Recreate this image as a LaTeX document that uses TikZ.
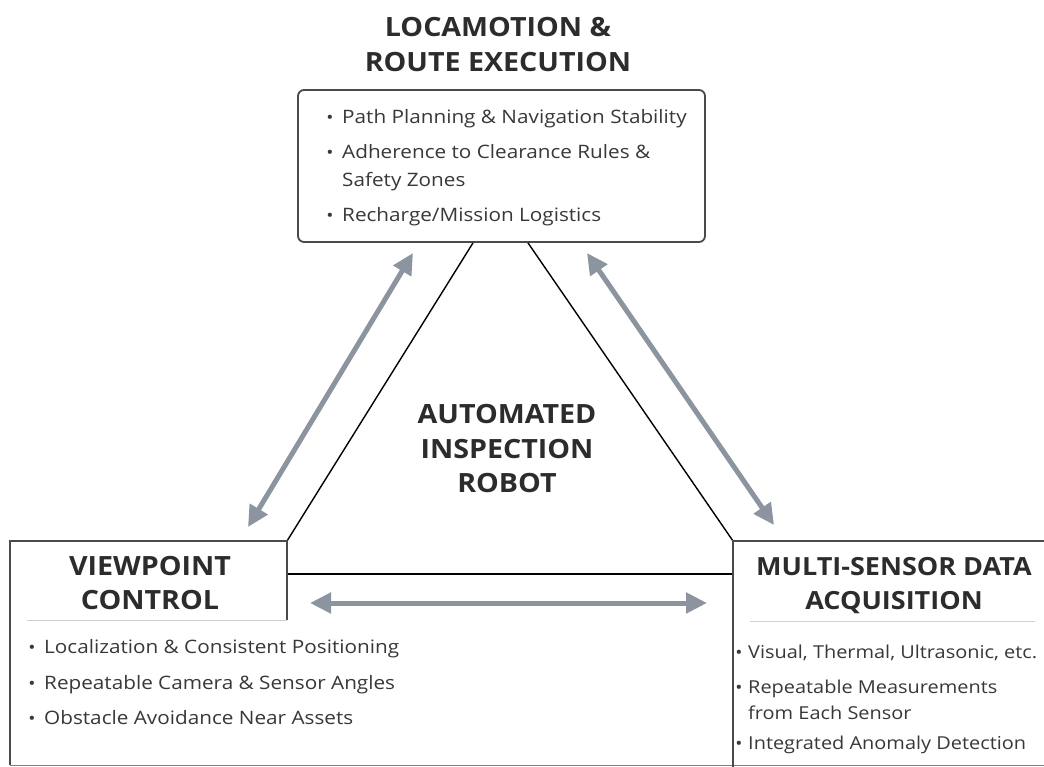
\documentclass[tikz,border=0pt]{standalone}
\usepackage{fontspec}
\setmainfont{Open Sans}[FakeStretch=1.12]
\newfontfamily\titlefont{Open Sans}[FakeStretch=1.08]
\usetikzlibrary{arrows.meta}

\definecolor{linkgray}{HTML}{8C949F}
\definecolor{framegray}{HTML}{4A4A4A}
\definecolor{rulegray}{HTML}{CFCFCF}
\definecolor{bodytext}{HTML}{383838}
\definecolor{headtext}{HTML}{2C2C2C}

\tikzset{
  topbox/.style={draw=framegray, line width=1.8pt, rounded corners=6pt, fill=white, inner sep=0pt},
  frame/.style={draw=framegray, line width=1.3pt},
  rulesep/.style={draw=rulegray, line width=1pt},
  triline/.style={draw=black, line width=1.4pt},
  link/.style={draw=linkgray, line width=5pt,
    {Triangle[length=21pt,width=20pt]}-{Triangle[length=21pt,width=20pt]}},
  % multi-line nodes sit on the baseline of their last line
  head/.style={font=\titlefont\bfseries\fontsize{26.5}{34.5}\selectfont, text=headtext,
    inner sep=0pt, anchor=base, align=center},
  itemtext/.style={font=\fontsize{18.5}{28}\selectfont, text=bodytext, inner sep=0pt,
    anchor=base west, align=left},
  itemnarrow/.style={itemtext, font=\fontsize{17.8}{26.5}\selectfont},
  bul/.style={font=\fontsize{17}{18}\selectfont, text=bodytext, inner sep=0pt, anchor=base}
}

\begin{document}
\begin{tikzpicture}[x=1pt,y=-1pt]
\useasboundingbox[fill=white] (0,0) rectangle (1044,767);

% ---- top block: locomotion & route execution ----
\node[head] (locotitle) at (498,71.5) {LOCAMOTION \&\\ROUTE EXECUTION};
\node[topbox, minimum width=407pt, minimum height=152pt] (loco) at (501.5,166) {};
\node[bul] (lb1) at (330,123.5) {•};
\node[itemtext] (li1) at (342,123.5) {Path Planning \& Navigation Stability};
\node[bul] (lb2) at (330,158.5) {•};
\node[itemtext] (li2) at (342,186.5) {Adherence to Clearance Rules \&\\Safety Zones};
\node[bul] (lb3) at (330,221.5) {•};
\node[itemtext] (li3) at (342,221.5) {Recharge/Mission Logistics};

% ---- corner points of the lower frames ----
\coordinate (vtr) at (287,541);
\coordinate (vtl) at (10,541);
\coordinate (vbl) at (10,765);
\coordinate (vsep) at (287,620);
\coordinate (stl) at (733,541);
\coordinate (str) at (1044,541);
\coordinate (sbl) at (733,767);
\coordinate (bre) at (1044,765);

% ---- central triangle ----
\coordinate (apl) at ([xshift=-28.5pt]loco.south);
\coordinate (apr) at ([xshift=26.5pt]loco.south);
\coordinate (basel) at (287,574);
\coordinate (baser) at (733,574);
\draw[triline] (apl) -- (vtr);
\draw[triline] (apr) -- (stl);
\draw[triline] (basel) -- (baser);

\node[head] (robot) at (507,492.5) {AUTOMATED\\INSPECTION\\ROBOT};

% ---- lower left block: viewpoint control ----
\draw[frame] (vsep) -- (vtr) -- (vtl) -- (vbl);
\draw[draw=framegray!70, line width=1pt] (vbl) -- (bre);
\draw[rulesep] (27,620) -- (vsep);
\node[head] (viewtitle) at (150,609.5) {VIEWPOINT\\CONTROL};
\node[bul] (vb1) at (32,653.5) {•};
\node[itemtext] (vi1) at (44,653.5) {Localization \& Consistent Positioning};
\node[bul] (vb2) at (32,689) {•};
\node[itemtext] (vi2) at (44,689) {Repeatable Camera \& Sensor Angles};
\node[bul] (vb3) at (32,724.5) {•};
\node[itemtext] (vi3) at (44,724.5) {Obstacle Avoidance Near Assets};

% ---- lower right block: multi-sensor data acquisition ----
\draw[frame] (str) -- (stl) -- (sbl);
\draw[rulesep] (750,621) -- (1035,621);
\node[head, font=\titlefont\bfseries\fontsize{25}{34.5}\selectfont] (senstitle) at (894,609.5)
  {MULTI-SENSOR DATA\\ACQUISITION};
\node[bul] (sb1) at (739,658) {•};
\node[itemnarrow] (si1) at (748,658) {Visual, Thermal, Ultrasonic, etc.};
\node[bul] (sb2) at (739,693) {•};
\node[itemnarrow] (si2) at (748,719.5) {Repeatable Measurements\\from Each Sensor};
\node[bul] (sb3) at (739,749) {•};
\node[itemnarrow] (si3) at (748,749) {Integrated Anomaly Detection};

% ---- two-way links between the blocks ----
\coordinate (lv) at (248,527);
\coordinate (ll) at (413,253);
\coordinate (rl) at (587,253);
\coordinate (rs) at (774,525);
\coordinate (hv) at (310,603);
\coordinate (hs) at (707,603);
\draw[link] (lv) -- (ll);
\draw[link] (rl) -- (rs);
\draw[link] (hv) -- (hs);
\end{tikzpicture}
\end{document}
